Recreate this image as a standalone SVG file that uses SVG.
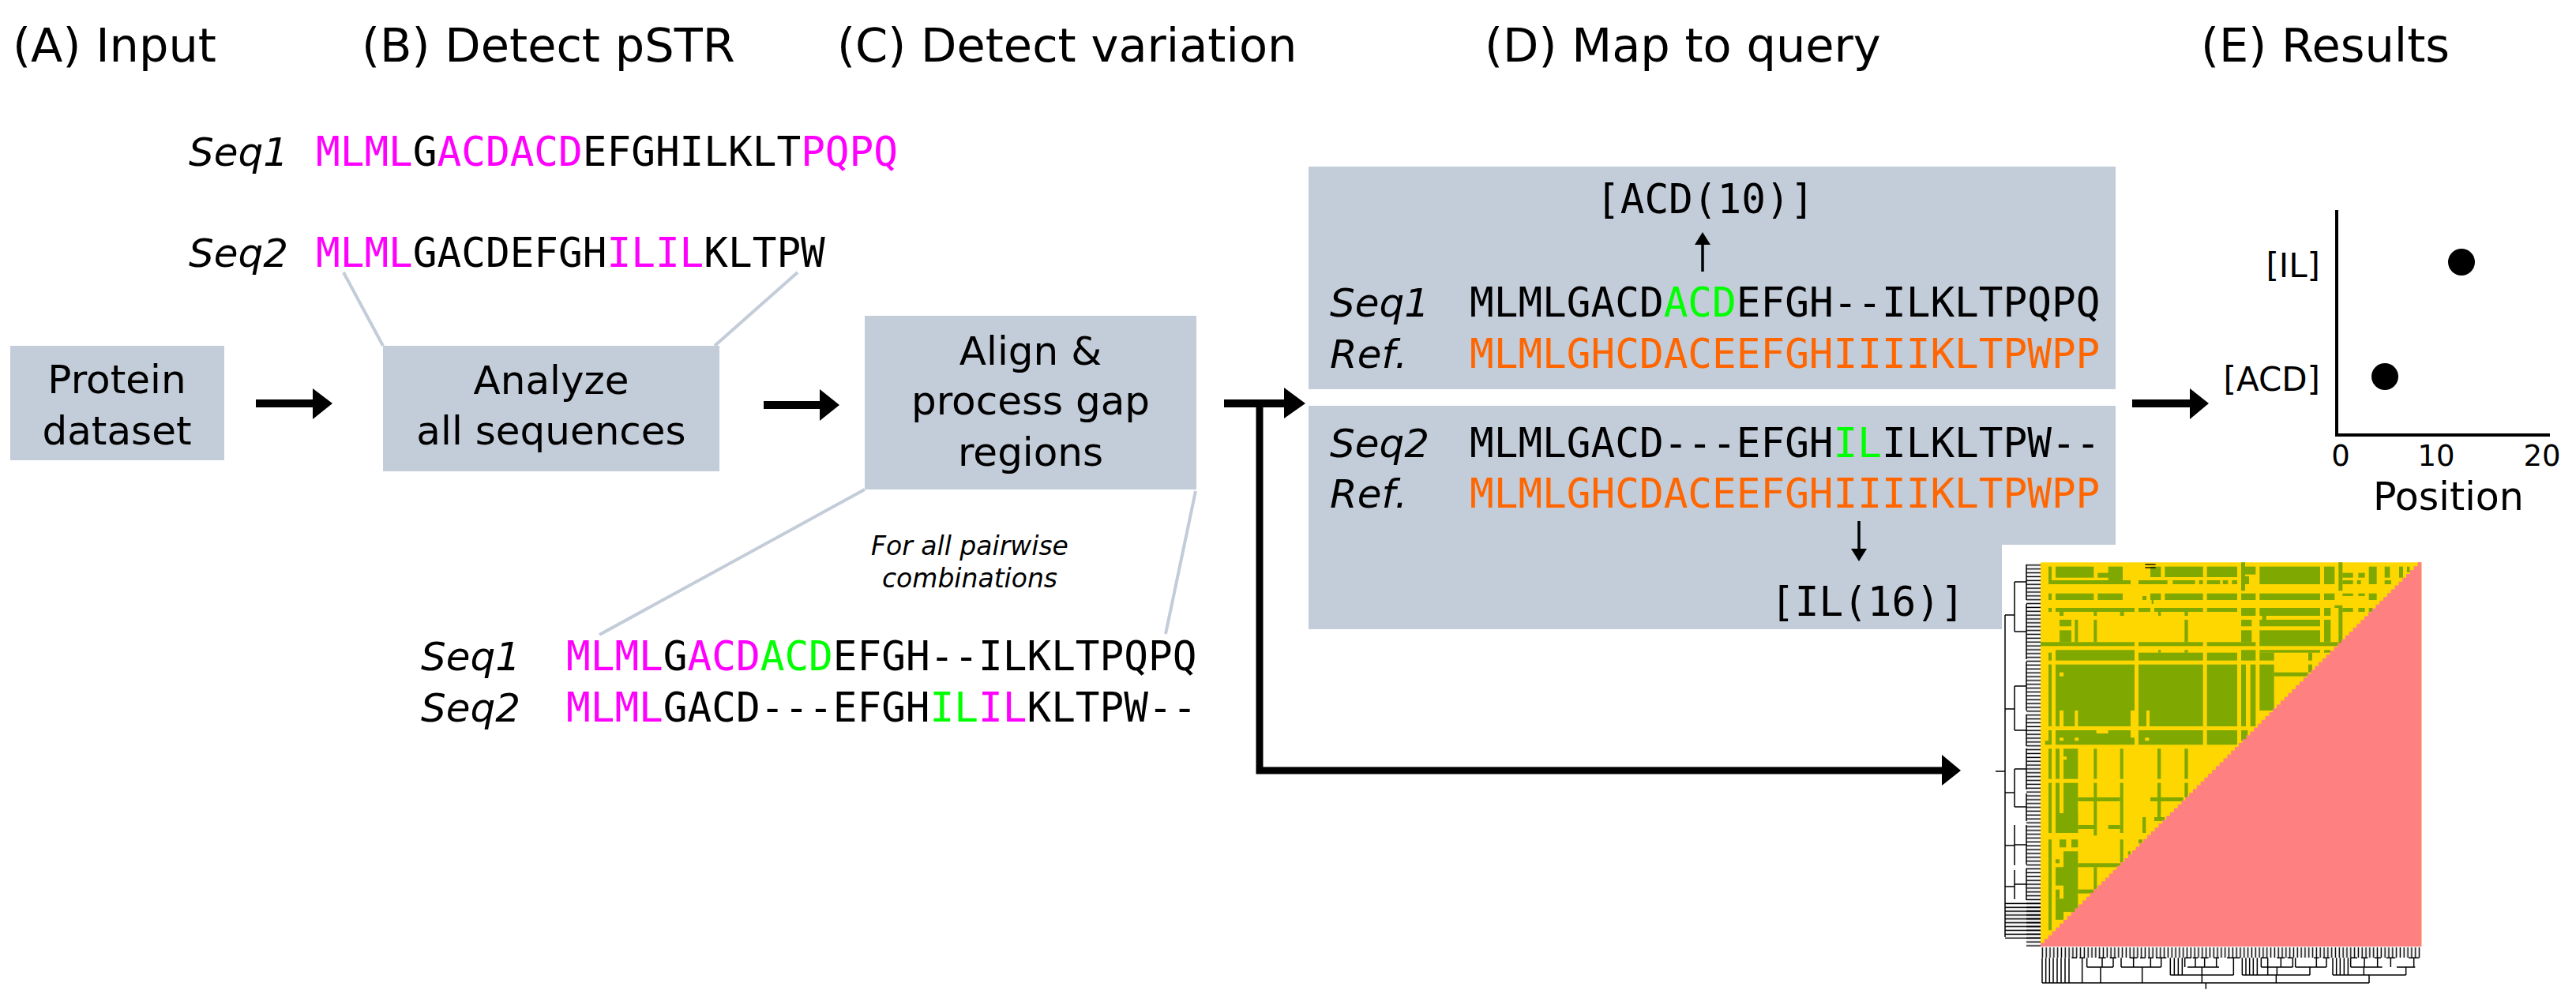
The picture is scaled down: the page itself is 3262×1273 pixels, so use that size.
<svg xmlns="http://www.w3.org/2000/svg" width="3262" height="1273" viewBox="0 0 3262 1273">
<defs>
<style>
.box{fill:#c3ccd9}
.hdr{font-family:'DejaVu Sans',sans-serif;font-size:59px;fill:#000}
.lbl{font-family:'DejaVu Sans',sans-serif;font-size:50px;text-anchor:middle;fill:#000}
.seq{font-family:'DejaVu Sans Mono',monospace;font-size:51px;fill:#000}
.it{font-family:'DejaVu Sans',sans-serif;font-style:italic;font-size:50px;fill:#000}
.small{font-family:'DejaVu Sans',sans-serif;font-style:italic;font-size:33px;text-anchor:middle;fill:#000}
.ax{font-family:'DejaVu Sans',sans-serif;fill:#000}
.m{fill:#ff00ff}.g{fill:#00ff00}.o{fill:#ff6600}
.zl{stroke:#c3ccd9;stroke-width:4;fill:none}
.arr{stroke:#000;stroke-width:10;fill:none}
.thin{stroke:#000;stroke-width:3.5;fill:none}
.hg{fill:#7fa800}
.hy{fill:#ffd700}
.dd{stroke:#000;stroke-width:1.5;fill:none}
.dz{stroke:#000;stroke-width:4.5;fill:none}
</style>
<pattern id="hl" patternUnits="userSpaceOnUse" x="0" y="713.5" width="20" height="4.87"><rect x="0" y="1.6" width="20" height="1.5" fill="#000"/></pattern>
<pattern id="vl" patternUnits="userSpaceOnUse" x="2584" y="0" width="4.82" height="20"><rect x="1.6" y="0" width="1.5" height="20" fill="#000"/></pattern>
</defs>

<!-- Headers -->
<g id="headers">
<text class="hdr" x="16" y="78">(A) Input</text>
<text class="hdr" x="458" y="78">(B) Detect pSTR</text>
<text class="hdr" x="1060" y="78">(C) Detect variation</text>
<text class="hdr" x="1880" y="78">(D) Map to query</text>
<text class="hdr" x="2787" y="78">(E) Results</text>
</g>

<!-- zoom lines -->
<g id="zoomlines">
<line class="zl" x1="435" y1="345" x2="485" y2="438"/>
<line class="zl" x1="1010" y1="345" x2="905" y2="438"/>
<line class="zl" x1="1095" y1="620" x2="759" y2="804"/>
<line class="zl" x1="1514" y1="622" x2="1476" y2="803" stroke-width="3"/>
</g>

<!-- Node A -->
<g id="node-protein-dataset">
<rect class="box" x="13" y="438" width="271" height="145"/>
<text class="lbl" x="148" y="498">Protein</text>
<text class="lbl" x="148" y="563">dataset</text>
</g>

<!-- Node B -->
<g id="node-analyze">
<rect class="box" x="485" y="438" width="426" height="159"/>
<text class="lbl" x="698" y="499">Analyze</text>
<text class="lbl" x="698" y="563">all sequences</text>
</g>

<g id="pstr-sequences">
<text class="it" x="239" y="210">Seq1</text>
<text class="seq" x="400" y="210"><tspan class="m">MLML</tspan>G<tspan class="m">ACDACD</tspan>EFGHILKLT<tspan class="m">PQPQ</tspan></text>
<text class="it" x="239" y="338">Seq2</text>
<text class="seq" x="400" y="338"><tspan class="m">MLML</tspan>GACDEFGH<tspan class="m">ILIL</tspan>KLTPW</text>
</g>

<!-- Node C -->
<g id="node-align">
<rect class="box" x="1095" y="400" width="420" height="220"/>
<text class="lbl" x="1305" y="462">Align &amp;</text>
<text class="lbl" x="1305" y="525">process gap</text>
<text class="lbl" x="1305" y="590">regions</text>
</g>

<g id="alignment">
<text class="small" x="1228" y="703">For all pairwise</text>
<text class="small" x="1228" y="744">combinations</text>
<text class="it" x="533" y="849">Seq1</text>
<text class="seq" x="717" y="849"><tspan class="m">MLML</tspan>G<tspan class="m">ACD</tspan><tspan class="g">ACD</tspan>EFGH--ILKLTPQPQ</text>
<text class="it" x="533" y="914">Seq2</text>
<text class="seq" x="717" y="914"><tspan class="m">MLML</tspan>GACD---EFGH<tspan class="g">IL</tspan><tspan class="m">IL</tspan>KLTPW--</text>
</g>

<!-- Node D -->
<g id="node-map-query-1">
<rect class="box" x="1657" y="211" width="1022" height="282"/>
<text class="seq" x="2021" y="270" font-size="49">[ACD(10)]</text>
<line class="thin" x1="2156" y1="344" x2="2156" y2="306"/>
<polygon points="2146,310 2156,294 2166,310" fill="#000"/>
<text class="it" x="1684" y="401">Seq1</text>
<text class="seq" x="1861" y="401">MLMLGACD<tspan class="g">ACD</tspan>EFGH--ILKLTPQPQ</text>
<text class="it" x="1684" y="466">Ref.</text>
<text class="seq o" x="1861" y="466">MLMLGHCDACEEFGHIIIIKLTPWPP</text>
</g>
<g id="node-map-query-2">
<rect class="box" x="1657" y="514" width="1022" height="283"/>
<text class="it" x="1684" y="579">Seq2</text>
<text class="seq" x="1861" y="579">MLMLGACD---EFGH<tspan class="g">IL</tspan>ILKLTPW--</text>
<text class="it" x="1684" y="643">Ref.</text>
<text class="seq o" x="1861" y="643">MLMLGHCDACEEFGHIIIIKLTPWPP</text>
<line class="thin" x1="2354" y1="660" x2="2354" y2="698"/>
<polygon points="2344,695 2354,711 2364,695" fill="#000"/>
<text class="seq" x="2242" y="780" font-size="48">[IL(16)]</text>
</g>

<!-- Node E: results plot -->
<g id="node-results">
<line stroke="#000" stroke-width="4" x1="2959" y1="266" x2="2959" y2="553"/>
<line stroke="#000" stroke-width="4" x1="2957" y1="551" x2="3229" y2="551"/>
<text class="ax" x="2938" y="351" font-size="42" text-anchor="end">[IL]</text>
<text class="ax" x="2938" y="495" font-size="42" text-anchor="end">[ACD]</text>
<circle cx="3117" cy="332" r="17" fill="#000"/>
<circle cx="3020" cy="477" r="17" fill="#000"/>
<text class="ax" x="2964" y="590" font-size="37" text-anchor="middle">0</text>
<text class="ax" x="3085" y="590" font-size="37" text-anchor="middle">10</text>
<text class="ax" x="3219" y="590" font-size="37" text-anchor="middle">20</text>
<text class="ax" x="3005" y="646" font-size="49">Position</text>
</g>

<!-- Node: heatmap -->
<g id="node-heatmap">
<rect x="2535" y="690" width="160" height="110" fill="#fff"/>
<g transform="translate(2578,705) scale(0.333333)">
<rect x="18" y="22" width="1447" height="1460" fill="#ffd700"/>
<!-- top band -->
<rect class="hg" x="48" y="38" width="12" height="67"/>
<rect class="hg" x="75" y="38" width="145" height="42"/>
<rect class="hg" x="235" y="62" width="95" height="18"/>
<rect class="hg" x="275" y="38" width="55" height="67"/>
<rect class="hg" x="48" y="90" width="312" height="15"/>
<rect class="hg" x="435" y="38" width="40" height="40"/>
<rect class="hg" x="490" y="38" width="145" height="40"/>
<rect class="hg" x="390" y="90" width="110" height="15"/>
<rect class="hg" x="520" y="90" width="85" height="15"/>
<rect class="hg" x="620" y="90" width="15" height="15"/>
<rect class="hg" x="650" y="90" width="50" height="15"/>
<rect class="hg" x="710" y="90" width="20" height="15"/>
<rect class="hg" x="745" y="90" width="20" height="15"/>
<rect class="hg" x="650" y="38" width="115" height="40"/>
<rect class="hg" x="780" y="22" width="15" height="108"/>
<rect class="hg" x="795" y="38" width="40" height="30"/>
<rect class="hg" x="795" y="75" width="15" height="30"/>
<rect class="hg" x="850" y="38" width="230" height="67"/>
<rect class="hg" x="1095" y="38" width="40" height="67"/>
<rect class="hg" x="1150" y="22" width="15" height="108"/>
<rect class="hg" x="1165" y="62" width="40" height="18"/>
<rect class="hg" x="1165" y="90" width="40" height="15"/>
<rect class="hg" x="1225" y="62" width="25" height="18"/>
<rect class="hg" x="1220" y="90" width="15" height="15"/>
<rect class="hg" x="1265" y="38" width="30" height="67"/>
<rect class="hg" x="1325" y="38" width="20" height="42"/>
<rect class="hg" x="1325" y="90" width="25" height="15"/>
<rect class="hg" x="1380" y="38" width="15" height="42"/>
<rect class="hg" x="1410" y="38" width="10" height="22"/>
<!-- band B -->
<rect class="hg" x="48" y="140" width="12" height="25"/>
<rect class="hg" x="75" y="140" width="145" height="25"/>
<rect class="hg" x="235" y="140" width="95" height="25"/>
<rect class="hg" x="405" y="150" width="15" height="15"/>
<rect class="hg" x="435" y="140" width="40" height="25"/>
<rect class="hg" x="440" y="165" width="7" height="15"/>
<rect class="hg" x="490" y="140" width="145" height="25"/>
<rect class="hg" x="650" y="140" width="115" height="25"/>
<rect class="hg" x="780" y="140" width="55" height="25"/>
<rect class="hg" x="850" y="140" width="230" height="25"/>
<rect class="hg" x="1095" y="140" width="40" height="25"/>
<rect class="hg" x="1165" y="140" width="40" height="10"/>
<rect class="hg" x="1225" y="140" width="25" height="10"/>
<rect class="hg" x="1265" y="140" width="30" height="25"/>
<!-- band C -->
<rect class="hg" x="48" y="195" width="12" height="15"/>
<rect class="hg" x="75" y="195" width="300" height="15"/>
<rect class="hg" x="90" y="210" width="15" height="15"/>
<rect class="hg" x="220" y="210" width="12" height="15"/>
<rect class="hg" x="320" y="210" width="15" height="15"/>
<rect class="hg" x="390" y="195" width="45" height="15"/>
<rect class="hg" x="450" y="195" width="185" height="15"/>
<rect class="hg" x="465" y="210" width="10" height="15"/>
<rect class="hg" x="565" y="210" width="13" height="15"/>
<rect class="hg" x="650" y="195" width="115" height="15"/>
<rect class="hg" x="780" y="195" width="55" height="30"/>
<rect class="hg" x="850" y="195" width="230" height="30"/>
<rect class="hg" x="1095" y="195" width="25" height="30"/>
<rect class="hg" x="1135" y="185" width="30" height="10"/>
<rect class="hg" x="1150" y="195" width="15" height="135"/>
<rect class="hg" x="1165" y="195" width="40" height="15"/>
<rect class="hg" x="1225" y="195" width="25" height="15"/>
<rect class="hg" x="1265" y="195" width="15" height="15"/>
<!-- band D -->
<rect class="hg" x="90" y="240" width="45" height="25"/>
<rect class="hg" x="148" y="240" width="12" height="85"/>
<rect class="hg" x="220" y="240" width="12" height="85"/>
<rect class="hg" x="90" y="280" width="45" height="45"/>
<rect class="hg" x="565" y="240" width="13" height="85"/>
<rect class="hg" x="780" y="240" width="40" height="25"/>
<rect class="hg" x="780" y="280" width="40" height="45"/>
<rect class="hg" x="860" y="225" width="15" height="15"/>
<rect class="hg" x="850" y="240" width="230" height="25"/>
<rect class="hg" x="850" y="280" width="230" height="50"/>
<rect class="hg" x="1095" y="240" width="25" height="85"/>
<rect class="hg" x="18" y="325" width="357" height="15"/>
<rect class="hg" x="390" y="325" width="245" height="15"/>
<rect class="hg" x="650" y="325" width="185" height="15"/>
<rect class="hg" x="850" y="325" width="300" height="15"/>
<!-- band F -->
<rect class="hg" x="48" y="365" width="12" height="30"/>
<rect class="hg" x="75" y="355" width="300" height="40"/>
<rect class="hg" x="390" y="365" width="245" height="30"/>
<rect class="hg" x="465" y="355" width="10" height="10"/>
<rect class="hg" x="565" y="355" width="13" height="10"/>
<rect class="hg" x="650" y="365" width="115" height="30"/>
<rect class="hg" x="780" y="355" width="55" height="40"/>
<rect class="hg" x="850" y="355" width="230" height="10"/>
<rect class="hg" x="850" y="365" width="55" height="30"/>
<rect class="hg" x="1035" y="365" width="15" height="30"/>
<rect class="hg" x="1095" y="355" width="25" height="10"/>
<!-- band G -->
<rect class="hg" x="48" y="410" width="12" height="235"/>
<rect class="hg" x="75" y="410" width="300" height="175"/>
<rect class="hg" x="75" y="585" width="15" height="60"/>
<rect class="hg" x="105" y="585" width="43" height="60"/>
<rect class="hg" x="160" y="585" width="200" height="60"/>
<rect class="hg" x="390" y="410" width="245" height="175"/>
<rect class="hg" x="390" y="585" width="30" height="60"/>
<rect class="hg" x="432" y="585" width="203" height="60"/>
<rect class="hg" x="650" y="410" width="115" height="235"/>
<rect class="hg" x="780" y="410" width="18" height="235"/>
<rect class="hg" x="815" y="410" width="20" height="235"/>
<rect class="hg" x="850" y="410" width="55" height="175"/>
<rect class="hg" x="905" y="440" width="130" height="15"/>
<rect class="hg" x="1035" y="410" width="15" height="30"/>
<rect class="hy" x="90" y="440" width="15" height="15"/>
<!-- band H -->
<rect class="hg" x="48" y="660" width="12" height="55"/>
<rect class="hg" x="35" y="700" width="13" height="15"/>
<rect class="hg" x="75" y="660" width="300" height="55"/>
<rect class="hg" x="390" y="660" width="245" height="55"/>
<rect class="hg" x="650" y="660" width="115" height="55"/>
<rect class="hg" x="780" y="660" width="25" height="40"/>
<rect class="hy" x="230" y="660" width="45" height="12"/>
<rect class="hy" x="90" y="688" width="15" height="12"/>
<rect class="hy" x="148" y="688" width="14" height="12"/>
<rect class="hy" x="360" y="660" width="30" height="28"/>
<rect class="hy" x="415" y="688" width="15" height="12"/>
<!-- band I -->
<rect class="hg" x="48" y="730" width="12" height="115"/>
<rect class="hg" x="75" y="730" width="15" height="115"/>
<rect class="hg" x="105" y="730" width="55" height="115"/>
<rect class="hg" x="220" y="730" width="12" height="115"/>
<rect class="hg" x="320" y="730" width="12" height="115"/>
<rect class="hg" x="462" y="730" width="13" height="115"/>
<rect class="hg" x="565" y="730" width="13" height="115"/>
<rect class="hy" x="105" y="760" width="12" height="12"/>
<!-- band J -->
<rect class="hg" x="48" y="860" width="12" height="190"/>
<rect class="hg" x="75" y="860" width="15" height="115"/>
<rect class="hg" x="105" y="860" width="55" height="190"/>
<rect class="hg" x="75" y="975" width="85" height="75"/>
<rect class="hg" x="160" y="915" width="160" height="15"/>
<rect class="hg" x="220" y="860" width="12" height="200"/>
<rect class="hg" x="320" y="860" width="12" height="190"/>
<rect class="hg" x="462" y="860" width="13" height="140"/>
<rect class="hg" x="435" y="915" width="125" height="15"/>
<rect class="hg" x="565" y="860" width="13" height="55"/>
<rect class="hg" x="405" y="990" width="13" height="60"/>
<rect class="hg" x="450" y="990" width="40" height="15"/>
<rect class="hg" x="160" y="1020" width="70" height="15"/>
<rect class="hg" x="275" y="1020" width="45" height="15"/>
<!-- band K -->
<rect class="hg" x="48" y="1075" width="12" height="345"/>
<rect class="hg" x="90" y="1075" width="25" height="30"/>
<rect class="hg" x="135" y="1075" width="25" height="30"/>
<rect class="hg" x="105" y="1120" width="55" height="230"/>
<rect class="hg" x="75" y="1150" width="15" height="15"/>
<rect class="hg" x="160" y="1165" width="160" height="15"/>
<rect class="hg" x="220" y="1180" width="12" height="85"/>
<rect class="hg" x="160" y="1265" width="60" height="15"/>
<rect class="hg" x="75" y="1180" width="30" height="70"/>
<rect class="hg" x="75" y="1265" width="15" height="35"/>
<rect class="hg" x="75" y="1300" width="30" height="80"/>
<rect class="hg" x="320" y="1075" width="12" height="90"/>
<rect class="hg" x="350" y="1120" width="10" height="15"/>
<rect class="hg" x="390" y="1075" width="15" height="15"/>
<!-- lower triangle (staircase, 100 steps) -->
<path fill="#ff8080" d="M18,1482
v-14.6h14.47v-14.6h14.47v-14.6h14.47v-14.6h14.47v-14.6h14.47
v-14.6h14.47v-14.6h14.47v-14.6h14.47v-14.6h14.47v-14.6h14.47
v-14.6h14.47v-14.6h14.47v-14.6h14.47v-14.6h14.47v-14.6h14.47
v-14.6h14.47v-14.6h14.47v-14.6h14.47v-14.6h14.47v-14.6h14.47
v-14.6h14.47v-14.6h14.47v-14.6h14.47v-14.6h14.47v-14.6h14.47
v-14.6h14.47v-14.6h14.47v-14.6h14.47v-14.6h14.47v-14.6h14.47
v-14.6h14.47v-14.6h14.47v-14.6h14.47v-14.6h14.47v-14.6h14.47
v-14.6h14.47v-14.6h14.47v-14.6h14.47v-14.6h14.47v-14.6h14.47
v-14.6h14.47v-14.6h14.47v-14.6h14.47v-14.6h14.47v-14.6h14.47
v-14.6h14.47v-14.6h14.47v-14.6h14.47v-14.6h14.47v-14.6h14.47
v-14.6h14.47v-14.6h14.47v-14.6h14.47v-14.6h14.47v-14.6h14.47
v-14.6h14.47v-14.6h14.47v-14.6h14.47v-14.6h14.47v-14.6h14.47
v-14.6h14.47v-14.6h14.47v-14.6h14.47v-14.6h14.47v-14.6h14.47
v-14.6h14.47v-14.6h14.47v-14.6h14.47v-14.6h14.47v-14.6h14.47
v-14.6h14.47v-14.6h14.47v-14.6h14.47v-14.6h14.47v-14.6h14.47
v-14.6h14.47v-14.6h14.47v-14.6h14.47v-14.6h14.47v-14.6h14.47
v-14.6h14.47v-14.6h14.47v-14.6h14.47v-14.6h14.47v-14.6h14.47
v-14.6h14.47v-14.6h14.47v-14.6h14.47v-14.6h14.47v-14.6h14.47
v-14.6h14.47v-14.6h14.47v-14.6h14.47v-14.6h14.47v-14.6h14.47
v-14.6h14.47v-14.6h14.47v-14.6h14.47v-14.6h14.47v-14.6h14.47
L1465,22V1482Z"/>
<rect x="415" y="28" width="40" height="4" fill="#000"/>
<rect x="415" y="40" width="40" height="4" fill="#000"/>
</g>
<!-- left dendrogram -->
<rect x="2566" y="713" width="18" height="486" fill="url(#hl)"/>
<rect x="2539" y="1141" width="45" height="48" fill="url(#hl)"/>
<path class="dd" d="M2566,715V760M2566,765V835M2566,838V900M2566,905V945M2566,948V1000M2566,1005V1040M2566,1045V1095M2566,1100V1140
M2551,737H2566M2551,800H2566M2551,869H2566M2551,925H2566M2551,974H2566M2551,1022H2566M2551,1070H2566M2551,1120H2566
M2551,737V800M2551,869V925M2551,974V1022M2551,1045V1096M2551,1102V1139
M2539,779V1187M2539,779H2551M2539,898H2551M2539,1004H2551M2539,1071H2551M2539,1123H2551M2527,977H2539"/>
<!-- bottom dendrogram -->
<rect x="2584" y="1200" width="482" height="13" fill="url(#vl)"/>
<g transform="translate(2570,1180) scale(0.333333)">
<path class="dz" d="M160,100H180M190,100H210M262,100H290M305,100H330M380,100H410M420,100H440M450,100H470M480,100H520M590,100H615M620,100H640M650,100H680M700,100H720M750,100H800M880,100H905M940,100H970M980,100H1000M1080,100H1100M1115,100H1140M1220,100H1245M1260,100H1285M1310,100H1335M1355,100H1390M1440,100H1480
M218,100V135M276,100V135M318,100V135M218,135H318
M348,100V135M395,100V135M460,100V135M500,100V135M348,135H500
M590,100V135M630,100V135M665,100V135M710,100V135M600,135H720M775,100V165
M880,100V135M955,100V135M1000,100V135M880,135H1000
M1010,100V135M1090,100V135M1128,100V135M1010,135H1128
M1220,100V135M1272,100V135M1322,100V135M1220,135H1340M1372,100V135M1460,100V135M1395,135H1465
M535,100V165M550,100V165M565,100V165M580,100V165M655,135V165M535,165H775
M808,100V165M822,100V165M836,100V165M850,100V165M865,100V165M905,100V165M940,135V165M1065,135V165M808,165H1065
M1152,100V165M1166,100V165M1180,100V165M1195,100V165M1210,100V165M1270,135V165M1430,135V165M1152,165H1430
M48,100V195M62,100V195M76,100V195M90,100V195M105,100V195M120,100V195M135,100V195M150,100V195M200,100V195M428,135V195M270,135V195M655,165V195M937,165V195M1290,165V195
M48,195H1290M670,195V218"/>
</g>
</g>

<!-- Connectors -->
<g id="connectors">
<line class="arr" x1="324" y1="511" x2="398" y2="511"/>
<polygon points="396,492 421,511 396,531" fill="#000"/>
<line class="arr" x1="967" y1="513" x2="1040" y2="513"/>
<polygon points="1038,493 1063,513 1038,533" fill="#000"/>
<line class="arr" x1="1550" y1="511" x2="1628" y2="511"/>
<polygon points="1626,491 1653,511 1626,530" fill="#000"/>
<path stroke="#000" stroke-width="9" fill="none" d="M1595,506V976H2461"/>
<polygon points="2459,956 2483,976 2459,995" fill="#000"/>
<line class="arr" x1="2700" y1="511" x2="2775" y2="511"/>
<polygon points="2773,492 2797,511 2773,531" fill="#000"/>
</g>
</svg>
